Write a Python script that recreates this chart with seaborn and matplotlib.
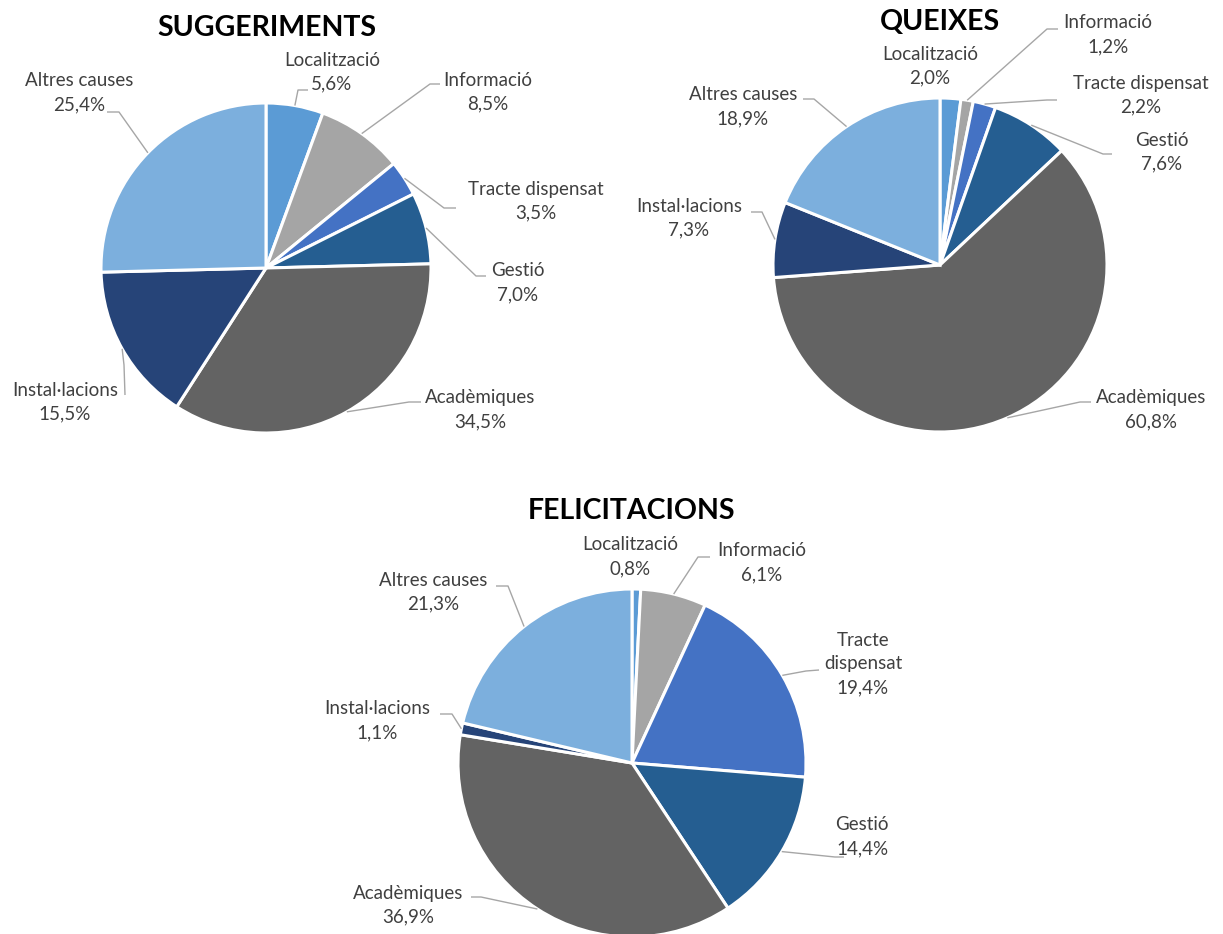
import matplotlib
matplotlib.use("Agg")
import matplotlib.pyplot as plt
import numpy as np
import seaborn as sns

# ---- data -------------------------------------------------------------
categories = ["Localització", "Informació", "Tracte dispensat", "Gestió",
              "Acadèmiques", "Instal·lacions", "Altres causes"]
suggeriments = [5.6, 8.5, 3.5, 7.0, 34.5, 15.5, 25.4]
queixes = [2.0, 1.2, 2.2, 7.6, 60.8, 7.3, 18.9]
felicitacions = [0.8, 6.1, 19.4, 14.4, 36.9, 1.1, 21.3]
titles = ["SUGGERIMENTS", "QUEIXES", "FELICITACIONS"]

# ---- style ------------------------------------------------------------
sns.set_theme(style="white")
plt.rcParams["font.family"] = ["Lato", "DejaVu Sans"]
palette = sns.color_palette(["#5B9BD5", "#A5A5A5", "#4472C4", "#255E91",
                             "#636363", "#264478", "#7CAFDD"])
LEADER = "#A6A6A6"
W, H = 1223, 934

# layout in pixel units (y measured from the top edge)
# centre, radius, title position, and per-category label centre + leader
# attachment (A) and elbow (E) points
layouts = [
    dict(center=(266, 268), r=165, title=(267, 28),
         labels=[(332, 72), (488, 92), (536, 201), (518, 283),
                 (480, 410), (65, 402), (79, 93)],
         leaders=[((308, 90), (298, 90)), ((440, 84), (430, 84)),
                  ((456, 208), (444, 208)), ((486, 276), (476, 276)),
                  ((421, 402), (409, 402)), ((125, 395), (124, 365)),
                  ((107, 112), (119, 112))],
         wrap=[]),
    dict(center=(940, 265), r=167, title=(940, 22),
         labels=[(930, 66), (1108, 35), (1141, 95), (1162, 152),
                 (1151, 410), (689, 218), (743, 107)],
         leaders=[None, ((1058, 29), (1047, 29)),
                  ((1057, 100), (1047, 100)), ((1112, 154), (1103, 154)),
                  ((1091, 402), (1080, 402)), ((751, 212), (762, 212)),
                  ((803, 99), (814, 99))],
         wrap=[]),
    dict(center=(632, 763), r=174, title=(632, 511),
         labels=[(630, 557), (762, 563), (863, 664), (862, 837),
                 (408, 905), (377, 721), (433, 592)],
         leaders=[None, ((710, 557), (698, 557)),
                  ((819, 670), (806, 671)), ((844, 857), (835, 857)),
                  ((471, 897), (481, 897)), ((440, 714), (452, 714)),
                  ((496, 586), (508, 586))],
         wrap=["Tracte dispensat"]),
]


def fy(y):
    return H - y


fig = plt.figure(figsize=(W / 100, H / 100), dpi=100)
ax = fig.add_axes([0, 0, 1, 1])

for values, title, lay in zip([suggeriments, queixes, felicitacions], titles, layouts):
    cx, cy = lay["center"]
    r = lay["r"]
    wedges, _ = ax.pie(values, colors=palette, startangle=90, counterclock=False,
                       center=(cx, fy(cy)), radius=r, frame=True,
                       wedgeprops=dict(edgecolor="white", linewidth=2.2))
    ax.text(lay["title"][0], fy(lay["title"][1]), title, ha="center", va="center",
            fontsize=20.5, fontweight="bold", color="black")
    for cat, val, w, (lx, ly), lead in zip(categories, values, wedges,
                                           lay["labels"], lay["leaders"]):
        name = cat.replace(" ", "\n") if cat in lay["wrap"] else cat
        txt = f"{name}\n{val:.1f}%".replace(".", ",")
        ax.text(lx, fy(ly), txt, ha="center", va="center", fontsize=13.5,
                color="#404040", linespacing=1.5)
        if lead is not None:
            mid = np.deg2rad((w.theta1 + w.theta2) / 2)
            rx = cx + r * np.cos(mid)
            ry = fy(cy) + r * np.sin(mid)
            (ax_, ay_), (ex, ey) = lead
            ax.plot([rx, ex, ax_], [ry, fy(ey), fy(ay_)], color=LEADER,
                    linewidth=1.0, solid_capstyle="butt")

ax.set_xlim(0, W)
ax.set_ylim(0, H)
ax.set_aspect("equal", adjustable="box")
ax.axis("off")
fig.savefig("out.png", dpi=100, facecolor="white")
